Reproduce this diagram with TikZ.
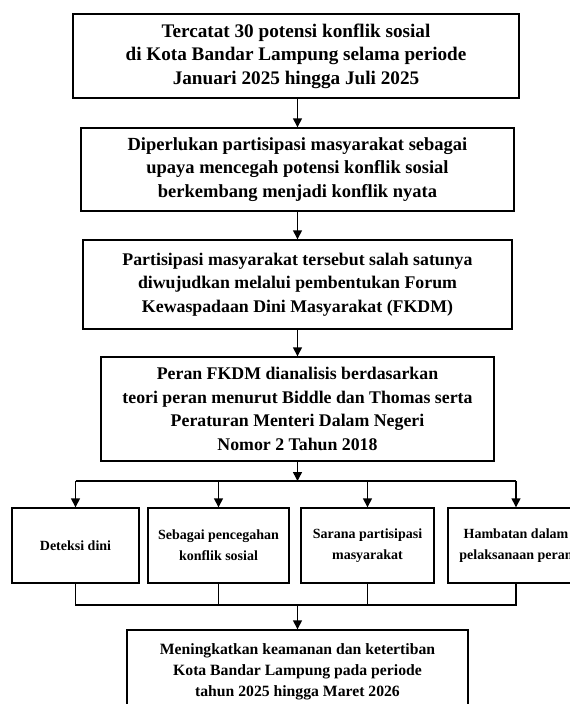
\documentclass[tikz,border=0pt]{standalone}
\usepackage{fontspec}
\setmainfont{Liberation Serif}
\usetikzlibrary{arrows.meta}
\begin{document}
\begin{tikzpicture}[x=1pt,y=1pt,
  box/.style={draw, line width=1.4pt, align=center, inner sep=0pt},
  bigtext/.style={font=\bfseries\fontsize{#1}{23.5}\selectfont},
  smalltext/.style={font=\bfseries\fontsize{14}{21}\selectfont},
  fintext/.style={font=\bfseries\fontsize{15.7}{21}\selectfont},
  arr/.style={line width=1.4pt, -{Triangle[length=9pt,width=9pt]}},
  ln/.style={line width=1.4pt}
]
\fill[white] (0,0) rectangle (570,-704);
\useasboundingbox (0,0) rectangle (570,-704);
\clip (0,0) rectangle (570,-704);

\node[box,bigtext=19.2,minimum width=446,minimum height=84] (b1) at (296,-56)
  {Tercatat 30 potensi konflik sosial\\di Kota Bandar Lampung selama periode\\Januari 2025 hingga Juli 2025};
\node[box,bigtext=18.5,minimum width=433,minimum height=83] (b2) at (297.5,-169.5)
  {Diperlukan partisipasi masyarakat sebagai\\upaya mencegah potensi konflik sosial\\berkembang menjadi konflik nyata};
\node[box,bigtext=17.8,minimum width=429,minimum height=89] (b3) at (297.5,-284.5)
  {Partisipasi masyarakat tersebut salah satunya\\diwujudkan melalui pembentukan Forum\\Kewaspadaan Dini Masyarakat (FKDM)};
\node[box,bigtext=17.8,minimum width=393,minimum height=104] (b4) at (297.5,-409)
  {Peran FKDM dianalisis berdasarkan\\teori peran menurut Biddle dan Thomas serta\\Peraturan Menteri Dalam Negeri\\Nomor 2 Tahun 2018};

\node[box,smalltext,minimum width=127,minimum height=75] (a) at (75.5,-545.5) {Deteksi dini};
\node[box,smalltext,minimum width=141,minimum height=75] (b) at (218.5,-545.5) {Sebagai pencegahan\\konflik sosial};
\node[box,smalltext,minimum width=133,minimum height=75] (c) at (367.5,-545.5) {Sarana partisipasi\\masyarakat};
\node[box,smalltext,minimum width=136,minimum height=75] (d) at (516,-545.5) {Hambatan dalam\\pelaksanaan peran};

\node[box,fintext,minimum width=341,minimum height=83] (f) at (297.5,-671.5)
  {Meningkatkan keamanan dan ketertiban\\Kota Bandar Lampung pada periode\\tahun 2025 hingga Maret 2026};

\coordinate (split) at (297.5,-481);
\coordinate (merge) at (297.5,-605);

\draw[arr] (b1.south -| b2.north) -- (b2.north);
\draw[arr] (b2.south) -- (b3.north);
\draw[arr] (b3.south) -- (b4.north);
\draw[arr] (b4.south) -- (split);
\draw[ln] (a.north |- split) -- (d.north |- split);
\draw[arr] (a.north |- split) -- (a.north);
\draw[arr] (b.north |- split) -- (b.north);
\draw[arr] (c.north |- split) -- (c.north);
\draw[arr] (d.north |- split) -- (d.north);
\draw[ln] (a.south) -- (a.south |- merge) -- (d.south |- merge) -- (d.south);
\draw[ln] (b.south) -- (b.south |- merge);
\draw[ln] (c.south) -- (c.south |- merge);
\draw[arr] (merge) -- (f.north);
\end{tikzpicture}
\end{document}
